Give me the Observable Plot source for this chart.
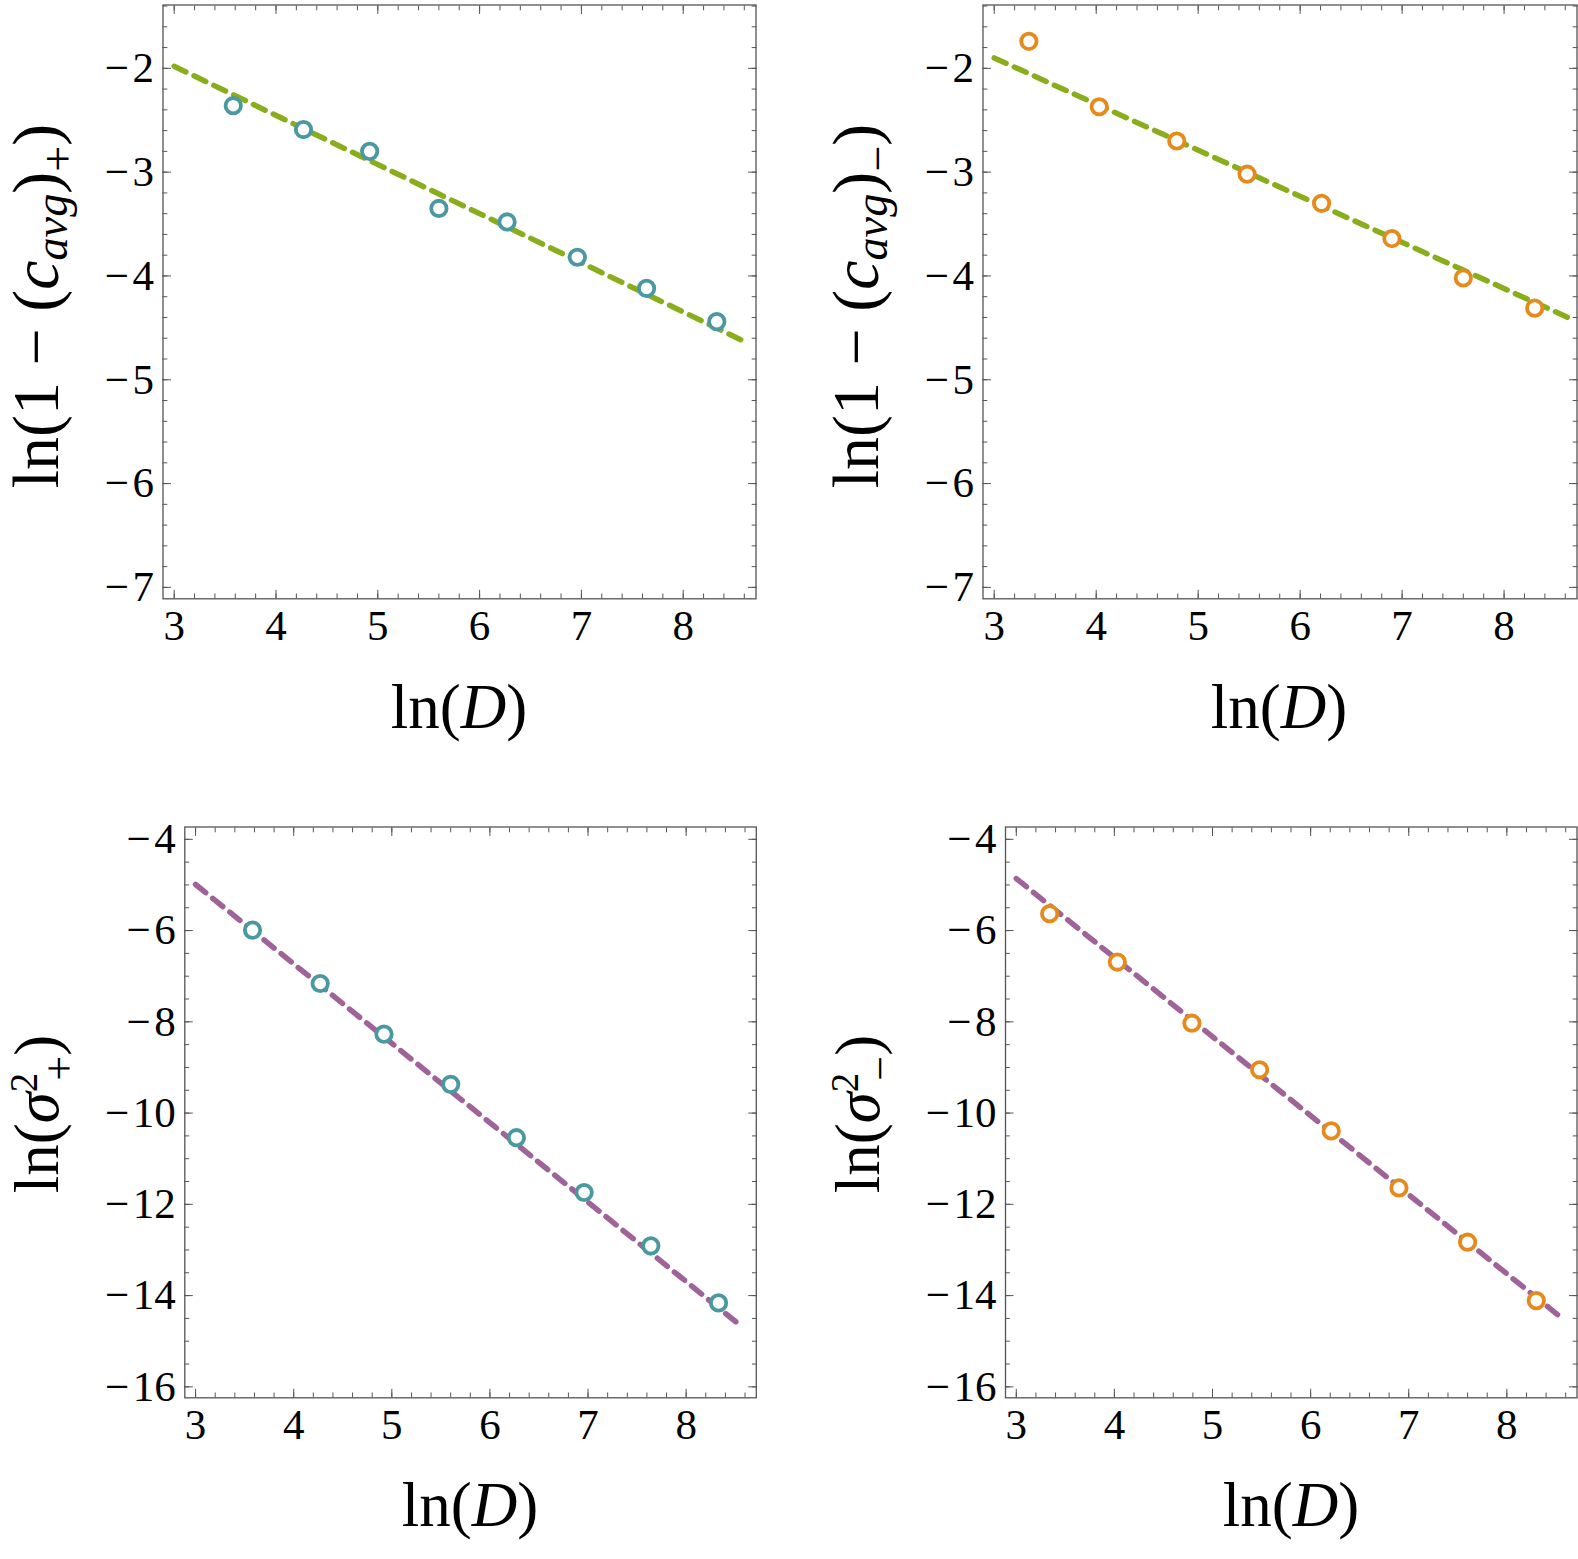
<!DOCTYPE html>
<html><head><meta charset="utf-8">
<script src="https://cdn.jsdelivr.net/npm/d3@7"></script>
<script src="https://cdn.jsdelivr.net/npm/@observablehq/plot@0.6"></script>
<style>
body{margin:0;background:#fff;}
#chart{position:relative;width:1578px;height:1559px;}
#chart svg{position:absolute;left:0;top:0;}
</style></head><body><div id="chart"></div>
<script>
// ---- data ----
const lnDPlus  = [3.58, 4.27, 4.92, 5.60, 6.27, 6.96, 7.64, 8.33];
const lnDMinus = [3.34, 4.03, 4.79, 5.48, 6.21, 6.90, 7.60, 8.30];
const cPlus    = [-2.36, -2.59, -2.80, -3.35, -3.48, -3.82, -4.12, -4.44];
const cMinus   = [-1.74, -2.37, -2.70, -3.02, -3.30, -3.64, -4.02, -4.31];
const sPlus    = [-5.99, -7.16, -8.27, -9.37, -10.54, -11.74, -12.91, -14.16];
const sMinus   = [-5.63, -6.69, -8.03, -9.05, -10.39, -11.64, -12.83, -14.11];
// fitted lines: endpoints [x0, x1], [y0, y1]
const fitX_cPlus = [3.0, 8.62],  fitY_cPlus = [-1.98, -4.64];
const fitX_cMinus = [3.0, 8.65], fitY_cMinus = [-1.90, -4.41];
const fitX_sPlus = [3.0, 8.55],  fitY_sPlus = [-4.99, -14.65];
const fitX_sMinus = [3.0, 8.53], fitY_sMinus = [-4.86, -14.44];
// tick labels
const xTicks = [3, 4, 5, 6, 7, 8];
const yTicksC = [-7, -6, -5, -4, -3, -2];
const yTicksS = [-16, -14, -12, -10, -8, -6, -4];

const W = 1578, H = 1559;
const teal = "#4a98a0", orange = "#e68a1c", green = "#8aad1c", purple = "#9f6399";
const axisColor = "#555";
const serif = "'Liberation Serif','Times New Roman',serif";

const xMinor = d3.range(15, 44).map(i => i / 5);
const yMinorC = d3.range(-35, -6).map(i => i / 5);
const yMinorS = d3.range(-32, -7).map(i => i / 2);
const fmt = d => (d < 0 ? "\u2212\u200A" : "") + Math.abs(d);

const panels = [
  {frame: [162.5, 755.5, 4.5, 598.3], xs: lnDPlus, ys: cPlus, pc: teal, lc: green,
   fx: fitX_cPlus, fy: fitY_cPlus, yDomain: [-7.11, -1.39], yMajor: yTicksC, yMinor: yMinorC,
   xlab: [459, 728], ylab: [58, 306], ykind: "c+"},
  {frame: [982.5, 1576.5, 4.5, 598.3], xs: lnDMinus, ys: cMinus, pc: orange, lc: green,
   fx: fitX_cMinus, fy: fitY_cMinus, yDomain: [-7.11, -1.39], yMajor: yTicksC, yMinor: yMinorC,
   xlab: [1279, 728], ylab: [878, 306], ykind: "c-"},
  {frame: [184.3, 755.8, 826.5, 1397.3], xs: lnDPlus, ys: sPlus, pc: teal, lc: purple,
   fx: fitX_sPlus, fy: fitY_sPlus, yDomain: [-16.24, -3.73], yMajor: yTicksS, yMinor: yMinorS,
   xlab: [470, 1526], ylab: [58, 1114], ykind: "s+"},
  {frame: [1005, 1576.5, 826.5, 1397.3], xs: lnDMinus, ys: sMinus, pc: orange, lc: purple,
   fx: fitX_sMinus, fy: fitY_sMinus, yDomain: [-16.24, -3.73], yMajor: yTicksS, yMinor: yMinorS,
   xlab: [1291, 1526], ylab: [879, 1114], ykind: "s-"}
];

const chart = document.getElementById("chart");

function addText(svg, x, y, rotate, parts, size) {
  const t = svg.append("text")
    .attr("transform", `translate(${x},${y})` + (rotate ? " rotate(-90)" : ""))
    .attr("text-anchor", "middle")
    .attr("font-family", serif)
    .attr("font-size", size)
    .attr("fill", "#000");
  let prevB = 0;
  for (const p of parts) {
    const b = p.b || 0;
    const ts = t.append("tspan").text(p.t)
      .attr("dy", b - prevB);
    if (p.dx) ts.attr("dx", p.dx);
    if (p.i) ts.attr("font-style", "italic");
    if (p.s) ts.attr("font-size", size * p.s);
    prevB = b;
  }
}

for (const P of panels) {
  const [l, r, t, b] = P.frame;
  const pts = P.xs.map((x, i) => ({x, y: P.ys[i]}));
  const fit = P.fx.map((x, i) => ({x, y: P.fy[i]}));
  const plot = Plot.plot({
    width: W, height: H,
    marginLeft: l, marginRight: W - r, marginTop: t, marginBottom: H - b,
    style: {fontFamily: serif, fontSize: "43px", background: "transparent", overflow: "visible", color: "#000"},
    x: {domain: [2.89, 8.715]},
    y: {domain: P.yDomain},
    marks: [
      Plot.frame({stroke: axisColor, strokeWidth: 1.3}),
      Plot.line(fit, {x: "x", y: "y", stroke: P.lc, strokeWidth: 5.5, strokeDasharray: "13,9"}),
      Plot.dot(pts, {x: "x", y: "y", r: 7.7, stroke: P.pc, strokeWidth: 3.8, fill: "white"}),
      // major / minor ticks on all four sides, pointing inward
      Plot.axisX(xTicks, {anchor: "bottom", tickSize: -8.5, tickFormat: () => "", label: null, stroke: axisColor}),
      Plot.axisX(xTicks, {anchor: "top", tickSize: -8.5, tickFormat: () => "", label: null, stroke: axisColor}),
      Plot.axisX(xMinor, {anchor: "bottom", tickSize: -4.8, tickFormat: () => "", label: null, stroke: axisColor}),
      Plot.axisX(xMinor, {anchor: "top", tickSize: -4.8, tickFormat: () => "", label: null, stroke: axisColor}),
      Plot.axisY(P.yMajor, {anchor: "left", tickSize: -8.5, tickFormat: () => "", label: null, stroke: axisColor}),
      Plot.axisY(P.yMajor, {anchor: "right", tickSize: -8.5, tickFormat: () => "", label: null, stroke: axisColor}),
      Plot.axisY(P.yMinor, {anchor: "left", tickSize: -4.8, tickFormat: () => "", label: null, stroke: axisColor}),
      Plot.axisY(P.yMinor, {anchor: "right", tickSize: -4.8, tickFormat: () => "", label: null, stroke: axisColor}),
      // tick labels
      Plot.axisX(xTicks, {anchor: "bottom", tickSize: 0, tickPadding: 11, tickFormat: fmt, label: null, fontSize: 43, fontFamily: serif, fill: "#000"}),
      Plot.axisY(P.yMajor, {anchor: "left", tickSize: 0, tickPadding: 9, tickFormat: fmt, label: null, fontSize: 43, fontFamily: serif, fill: "#000"})
    ]
  });
  chart.appendChild(plot);
  const svg = d3.select(plot);
  svg.selectAll("text").attr("font-family", serif).style("font-variant", "normal");
  addText(svg, P.xlab[0], P.xlab[1], false,
    [{t: "ln("}, {t: "D", i: true}, {t: ")"}], 63);
  if (P.ykind === "c+" || P.ykind === "c-") {
    const S = 66;
    addText(svg, P.ylab[0], P.ylab[1], true, [
      {t: "ln(1 \u2212 ("}, {t: "c", i: true},
      {t: "avg", i: true, s: 0.7, b: 9},
      {t: ")", b: 0},
      {t: P.ykind === "c+" ? "+" : "\u2212", s: 0.7, b: 15},
      {t: ")", b: 0}
    ], S);
  } else {
    const S = 63;
    addText(svg, P.ylab[0], P.ylab[1], true, [
      {t: "ln("}, {t: "\u03C3", i: true},
      {t: "2", s: 0.62, b: -21},
      {t: P.ykind === "s+" ? "+" : "\u2212", s: 0.7, b: 16, dx: -8},
      {t: ")", b: 0}
    ], S);
  }
}
</script></body></html>
